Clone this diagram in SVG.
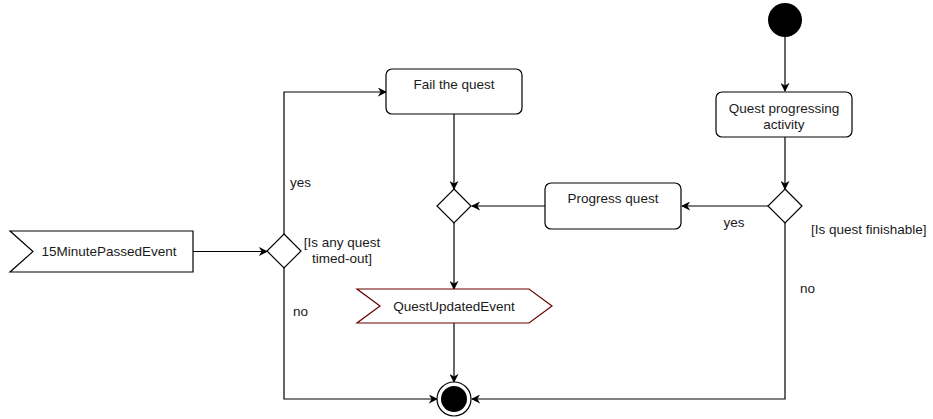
<svg xmlns="http://www.w3.org/2000/svg" width="933" height="419" viewBox="0 0 933 419">
  <style>
    .shape { fill: #ffffff; stroke: #000000; stroke-width: 1.2; }
    .event-out { fill: #ffffff; stroke: #660000; stroke-width: 1.2; }
    .edge { fill: none; stroke: #000000; stroke-width: 1.2; }
    .lbl { font-family: "Liberation Sans", Arial, Helvetica, sans-serif; font-size: 13.5px; fill: #1a1a1a; }
    .mid { text-anchor: middle; }
  </style>
  <defs>
    <marker id="arrow" viewBox="0 0 10 10" refX="9" refY="5" markerWidth="9" markerHeight="9" markerUnits="userSpaceOnUse" orient="auto">
      <path d="M0,0 L10,5 L0,10 L3,5 Z" fill="#000000"/>
    </marker>
  </defs>

  <rect width="933" height="419" fill="#ffffff"/>

  <!-- connectors -->
  <g id="connectors">
    <path class="edge" d="M785,37 V91" marker-end="url(#arrow)"/>
    <path class="edge" d="M785,137 V189" marker-end="url(#arrow)"/>
    <path class="edge" d="M768,206 H682" marker-end="url(#arrow)"/>
    <path class="edge" d="M785,223 V399 H472" marker-end="url(#arrow)"/>
    <path class="edge" d="M545,206 H472" marker-end="url(#arrow)"/>
    <path class="edge" d="M454,114 V189" marker-end="url(#arrow)"/>
    <path class="edge" d="M454,223 V289" marker-end="url(#arrow)"/>
    <path class="edge" d="M454,323 V382" marker-end="url(#arrow)"/>
    <path class="edge" d="M193,251.5 H267" marker-end="url(#arrow)"/>
    <path class="edge" d="M284,234 V92 H386" marker-end="url(#arrow)"/>
    <path class="edge" d="M284,268 V399 H437" marker-end="url(#arrow)"/>

    <text class="lbl mid" x="734" y="227">yes</text>
    <text class="lbl" x="811" y="234">[Is quest finishable]</text>
    <text class="lbl" x="800" y="293">no</text>
    <text class="lbl" x="290" y="187">yes</text>
    <text class="lbl mid" x="342" y="247">[Is any quest</text>
    <text class="lbl mid" x="342" y="263">timed-out]</text>
    <text class="lbl" x="293" y="316">no</text>
  </g>

  <!-- initial node -->
  <g id="start">
    <circle cx="785" cy="20" r="17" fill="#000000"/>
  </g>

  <!-- activities -->
  <g id="quest-progressing-activity">
    <rect class="shape" x="716" y="92" width="136" height="45" rx="6"/>
    <text class="lbl mid" x="784" y="113">Quest progressing</text>
    <text class="lbl mid" x="784" y="129">activity</text>
  </g>

  <g id="progress-quest">
    <rect class="shape" x="545" y="183" width="136" height="46" rx="6"/>
    <text class="lbl mid" x="613" y="203">Progress quest</text>
  </g>

  <g id="fail-the-quest">
    <rect class="shape" x="386" y="69" width="136" height="45" rx="6"/>
    <text class="lbl mid" x="454" y="89">Fail the quest</text>
  </g>

  <!-- decision / merge nodes -->
  <g id="decision-finishable">
    <polygon class="shape" points="785,189 802,206 785,223 768,206"/>
  </g>

  <g id="merge">
    <polygon class="shape" points="454,189 471,206 454,223 437,206"/>
  </g>

  <g id="decision-timed-out">
    <polygon class="shape" points="284,234 301,251 284,268 267,251"/>
  </g>

  <!-- events -->
  <g id="minute-passed-event">
    <polygon class="shape" points="10,231 193,231 193,272 10,272 33,251.5"/>
    <text class="lbl mid" x="109" y="256">15MinutePassedEvent</text>
  </g>

  <g id="quest-updated-event">
    <polygon class="event-out" points="357,289 529,289 552,306 529,323 357,323 380,306"/>
    <text class="lbl mid" x="454" y="311">QuestUpdatedEvent</text>
  </g>

  <!-- final node -->
  <g id="end">
    <circle cx="454" cy="399" r="17" fill="#ffffff" stroke="#000000" stroke-width="1.2"/>
    <circle cx="454" cy="399" r="13" fill="#000000"/>
  </g>
</svg>
